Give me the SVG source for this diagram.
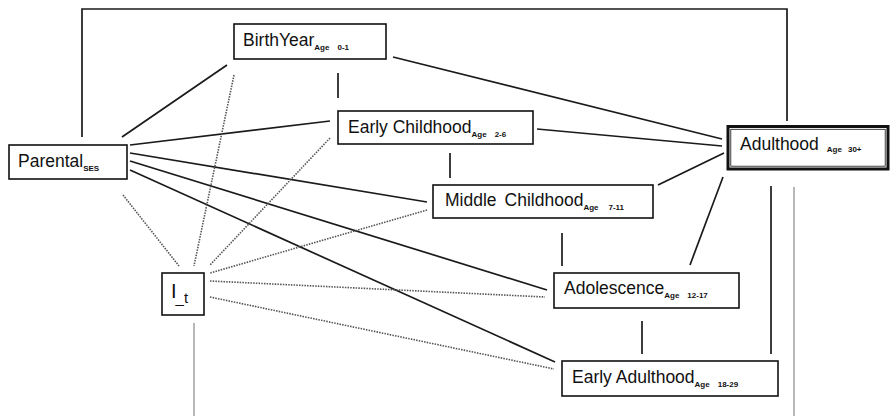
<svg xmlns="http://www.w3.org/2000/svg" width="890" height="416" viewBox="0 0 890 416">
<style>
.box{fill:#fff;stroke:#111;stroke-width:1.6}
.t{font-family:"Liberation Sans",Arial,sans-serif;font-size:17.5px;fill:#111}
.s{font-family:"Liberation Sans",Arial,sans-serif;font-size:8px;font-weight:bold;fill:#111}
.solid{stroke:#1a1a1a;stroke-width:1.7;fill:none}
.dot{stroke:#555;stroke-width:1.6;stroke-dasharray:1.5 1.2;fill:none}
.gray{stroke:#999;stroke-width:1.4;fill:none}
</style>
<rect width="890" height="416" fill="#fff"/>
<g id="connectors">
<polyline class="solid" points="82,137 82,9 787,9 787,121"/>
<line class="solid" x1="122" y1="137" x2="227" y2="65"/>
<line class="solid" x1="338" y1="73" x2="338" y2="98"/>
<line class="solid" x1="393" y1="57" x2="722" y2="139"/>
<line class="solid" x1="537" y1="129" x2="722" y2="146"/>
<line class="solid" x1="450" y1="153" x2="450" y2="178"/>
<line class="solid" x1="658" y1="185" x2="724" y2="153"/>
<line class="solid" x1="723" y1="177" x2="690" y2="265"/>
<line class="solid" x1="562" y1="233" x2="562" y2="266"/>
<line class="solid" x1="642" y1="321" x2="642" y2="354"/>
<line class="solid" x1="130" y1="145" x2="330" y2="121"/>
<line class="solid" x1="130" y1="153" x2="427" y2="202"/>
<line class="solid" x1="130" y1="161" x2="547" y2="290"/>
<line class="solid" x1="130" y1="170" x2="555" y2="362"/>
<line class="dot" x1="123" y1="195" x2="179" y2="266"/>
<line class="dot" x1="234" y1="75" x2="194" y2="266"/>
<line class="dot" x1="330" y1="138" x2="210" y2="265"/>
<line class="dot" x1="427" y1="210" x2="210" y2="273"/>
<line class="dot" x1="210" y1="281" x2="545" y2="297"/>
<line class="dot" x1="210" y1="297" x2="554" y2="369"/>
<line class="gray" x1="194" y1="323" x2="194" y2="416"/>
<line class="solid" x1="771" y1="186" x2="771" y2="354"/>
<line class="gray" x1="794" y1="187" x2="794" y2="416"/>
</g>
<g id="birthyear">
<rect class="box" x="234" y="24" width="152" height="35"/>
<text class="t" x="243" y="46">BirthYear<tspan class="s" dy="4">Age</tspan><tspan class="s" dx="8">0-1</tspan></text>
</g>
<g id="earlychildhood">
<rect class="box" x="338" y="111" width="195" height="33"/>
<text class="t" x="348" y="133">Early Childhood<tspan class="s" dy="4">Age</tspan><tspan class="s" dx="8">2-6</tspan></text>
</g>
<g id="parental">
<rect class="box" x="9" y="145" width="118" height="34"/>
<text class="t" x="18" y="167">Parental<tspan class="s" dy="4">SES</tspan></text>
</g>
<g id="adulthood">
<rect x="728" y="126.5" width="160" height="42.5" fill="#fff" stroke="#111" stroke-width="3"/>
<rect x="730.8" y="129.3" width="154.4" height="36.9" fill="none" stroke="#111" stroke-width="0.8"/>
<text class="t" x="740" y="150">Adulthood<tspan class="s" dx="8" dy="2">Age</tspan><tspan class="s" dx="6">30+</tspan></text>
</g>
<g id="middlechildhood">
<rect class="box" x="433" y="185" width="220" height="33"/>
<text class="t" x="445" y="206">Middle<tspan dx="8">Childhood</tspan><tspan class="s" dy="4">Age</tspan><tspan class="s" dx="10">7-11</tspan></text>
</g>
<g id="it">
<rect class="box" x="162" y="273" width="42" height="42"/>
<text class="t" x="171" y="298" style="font-size:20px">I<tspan dx="-1" dy="5" style="font-size:15px">_t</tspan></text>
</g>
<g id="adolescence">
<rect class="box" x="554" y="273" width="185" height="35"/>
<text class="t" x="564" y="294">Adolescence<tspan class="s" dy="4">Age</tspan><tspan class="s" dx="8">12-17</tspan></text>
</g>
<g id="earlyadulthood">
<rect class="box" x="562" y="361" width="216" height="35"/>
<text class="t" x="572" y="383">Early Adulthood<tspan class="s" dy="4">Age</tspan><tspan class="s" dx="8">18-29</tspan></text>
</g>
</svg>
